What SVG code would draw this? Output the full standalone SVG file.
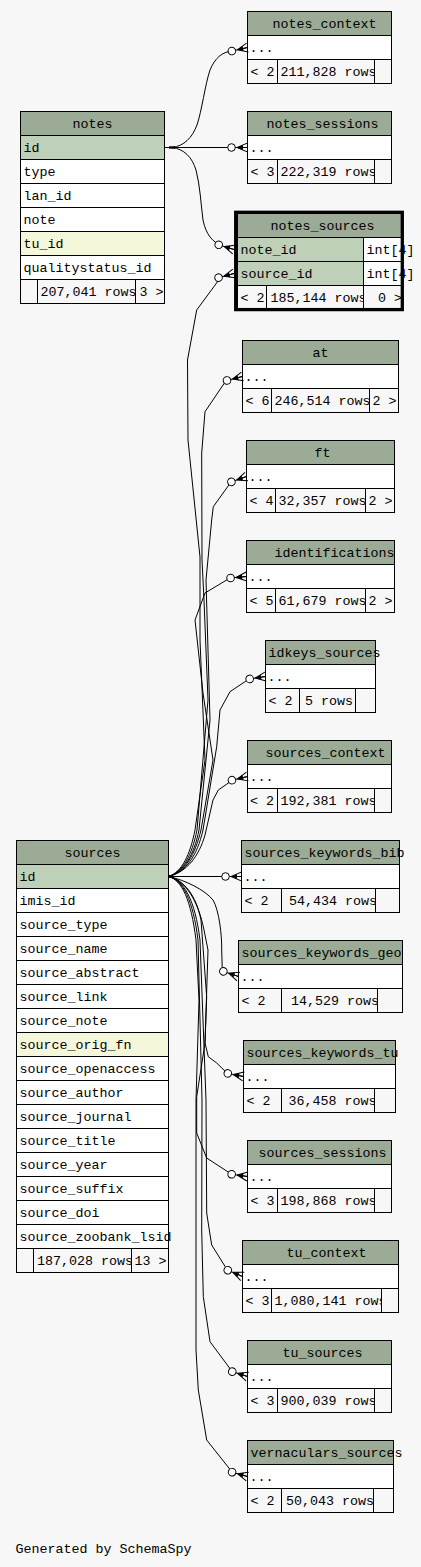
<svg xmlns="http://www.w3.org/2000/svg" width="421" height="1567" viewBox="0 0 421 1567">
<style>
.h{fill:#9bab96;stroke:#000;stroke-width:1}
.k{fill:#bed1b8;stroke:#000;stroke-width:1}
.i{fill:#f4f7da;stroke:#000;stroke-width:1}
.w{fill:#ffffff;stroke:#000;stroke-width:1}
.f{fill:#f7f7f7;stroke:#000;stroke-width:1}
text{font-family:"Liberation Mono","DejaVu Sans Mono",monospace;font-size:13.33px;fill:#000}
.e{fill:none;stroke:#000;stroke-width:1;marker-end:url(#co)}
</style>
<defs>
<marker id="co" markerUnits="userSpaceOnUse" orient="auto" markerWidth="24" markerHeight="14" viewBox="-21 -7 24 14" refX="0" refY="0" overflow="visible">
<path d="M-10.5,0 L0,-4.5 M-10.5,0 L0,0 M-10.5,0 L0,4.5" stroke="#000" stroke-width="1" fill="none"/>
<path d="M-10.5,0 L-4.5,-2.6 L-4.5,2.6 Z" fill="#000"/>
<circle cx="-16" cy="0" r="3.8" fill="#fff" stroke="#000" stroke-width="1"/>
</marker>
</defs>
<rect x="0" y="0" width="421" height="1567" fill="#f7f7f7"/>

<g id="notes">
<rect class="h" x="20.5" y="111.5" width="144" height="24"/>
<rect class="k" x="20.5" y="135.5" width="144" height="24"/>
<rect class="w" x="20.5" y="159.5" width="144" height="24"/>
<rect class="w" x="20.5" y="183.5" width="144" height="24"/>
<rect class="w" x="20.5" y="207.5" width="144" height="24"/>
<rect class="i" x="20.5" y="231.5" width="144" height="24"/>
<rect class="w" x="20.5" y="255.5" width="144" height="24"/>
<rect class="f" x="20.5" y="279.5" width="17" height="24"/>
<rect class="f" x="37.5" y="279.5" width="98" height="24"/>
<text x="72.5" y="127.5">notes</text>
<text x="23.5" y="151.5">id</text>
<text x="23.5" y="175.5">type</text>
<text x="23.5" y="199.5">lan_id</text>
<text x="23.5" y="223.5">note</text>
<text x="23.5" y="247.5">tu_id</text>
<text x="23.5" y="271.5">qualitystatus_id</text>
<text x="40.5" y="295.5">207,041 rows</text>
<rect class="f" x="135.5" y="279.5" width="29" height="24"/>
<text x="139.5" y="295.5">3 &gt;</text>
</g>

<g id="notes_context">
<rect class="h" x="247.5" y="11.5" width="144" height="24"/>
<rect class="w" x="247.5" y="35.5" width="144" height="24"/>
<rect class="f" x="247.5" y="59.5" width="30" height="24"/>
<rect class="f" x="277.5" y="59.5" width="97" height="24"/>
<text x="272.5" y="27.5">notes_context</text>
<text x="249.5" y="51.5">...</text>
<text x="250.5" y="75.5">&lt; 2</text>
<text x="280.5" y="75.5">211,828 rows</text>
<rect class="f" x="374.5" y="59.5" width="17" height="24"/>
</g>

<g id="notes_sessions">
<rect class="h" x="247.5" y="111.5" width="144" height="24"/>
<rect class="w" x="247.5" y="135.5" width="144" height="24"/>
<rect class="f" x="247.5" y="159.5" width="30" height="24"/>
<rect class="f" x="277.5" y="159.5" width="97" height="24"/>
<text x="266.5" y="127.5">notes_sessions</text>
<text x="249.5" y="151.5">...</text>
<text x="250.5" y="175.5">&lt; 3</text>
<text x="280.5" y="175.5">222,319 rows</text>
<rect class="f" x="374.5" y="159.5" width="17" height="24"/>
</g>

<g id="notes_sources">
<rect class="h" x="237.5" y="213.5" width="164" height="24"/>
<rect class="k" x="237.5" y="237.5" width="126" height="24"/>
<rect class="w" x="363.5" y="237.5" width="38" height="24"/>
<rect class="k" x="237.5" y="261.5" width="126" height="24"/>
<rect class="w" x="363.5" y="261.5" width="38" height="24"/>
<rect class="f" x="237.5" y="285.5" width="29" height="24"/>
<rect class="f" x="266.5" y="285.5" width="97" height="24"/>
<text x="270.5" y="230">notes_sources</text>
<text x="240.5" y="253.5">note_id</text>
<text x="366.5" y="253.5">int[4]</text>
<text x="240.5" y="277.5">source_id</text>
<text x="366.5" y="277.5">int[4]</text>
<text x="240.5" y="301.5">&lt; 2</text>
<text x="270.5" y="301.5">185,144 rows</text>
<rect class="f" x="363.5" y="285.5" width="38" height="24"/>
<text x="378" y="301.5">0 &gt;</text>
<rect x="235.7" y="212.3" width="166.6" height="97.3" fill="none" stroke="#000" stroke-width="3.3"/>
</g>

<g id="at">
<rect class="h" x="242.5" y="340.5" width="156" height="24"/>
<rect class="w" x="242.5" y="364.5" width="156" height="24"/>
<rect class="f" x="242.5" y="388.5" width="29" height="24"/>
<rect class="f" x="271.5" y="388.5" width="98" height="24"/>
<text x="312.5" y="356.5">at</text>
<text x="244.5" y="380.5">...</text>
<text x="245.5" y="404.5">&lt; 6</text>
<text x="274.5" y="404.5">246,514 rows</text>
<rect class="f" x="369.5" y="388.5" width="29" height="24"/>
<text x="372.5" y="404.5">2 &gt;</text>
</g>

<g id="ft">
<rect class="h" x="246.5" y="440.5" width="148" height="24"/>
<rect class="w" x="246.5" y="464.5" width="148" height="24"/>
<rect class="f" x="246.5" y="488.5" width="29" height="24"/>
<rect class="f" x="275.5" y="488.5" width="90" height="24"/>
<text x="314.5" y="456.5">ft</text>
<text x="248.5" y="480.5">...</text>
<text x="249.5" y="504.5">&lt; 4</text>
<text x="278.5" y="504.5">32,357 rows</text>
<rect class="f" x="365.5" y="488.5" width="29" height="24"/>
<text x="368.5" y="504.5">2 &gt;</text>
</g>

<g id="identifications">
<rect class="h" x="246.5" y="540.5" width="148" height="24"/>
<rect class="w" x="246.5" y="564.5" width="148" height="24"/>
<rect class="f" x="246.5" y="588.5" width="29" height="24"/>
<rect class="f" x="275.5" y="588.5" width="90" height="24"/>
<text x="274.5" y="556.5">identifications</text>
<text x="248.5" y="580.5">...</text>
<text x="249.5" y="604.5">&lt; 5</text>
<text x="278.5" y="604.5">61,679 rows</text>
<rect class="f" x="365.5" y="588.5" width="29" height="24"/>
<text x="368.5" y="604.5">2 &gt;</text>
</g>

<g id="idkeys_sources">
<rect class="h" x="265.5" y="640.5" width="110" height="24"/>
<rect class="w" x="265.5" y="664.5" width="110" height="24"/>
<rect class="f" x="265.5" y="688.5" width="34" height="24"/>
<rect class="f" x="299.5" y="688.5" width="56" height="24"/>
<text x="268.5" y="656.5">idkeys_sources</text>
<text x="267.5" y="680.5">...</text>
<text x="268.5" y="704.5">&lt; 2</text>
<text x="305" y="704.5">5 rows</text>
<rect class="f" x="355.5" y="688.5" width="20" height="24"/>
</g>

<g id="sources_context">
<rect class="h" x="247.5" y="740.5" width="144" height="24"/>
<rect class="w" x="247.5" y="764.5" width="144" height="24"/>
<rect class="f" x="247.5" y="788.5" width="30" height="24"/>
<rect class="f" x="277.5" y="788.5" width="97" height="24"/>
<text x="265.5" y="756.5">sources_context</text>
<text x="249.5" y="780.5">...</text>
<text x="250" y="804.5">&lt; 2</text>
<text x="280.5" y="804.5">192,381 rows</text>
<rect class="f" x="374.5" y="788.5" width="17" height="24"/>
</g>

<g id="sources_keywords_bib">
<rect class="h" x="241.5" y="840.5" width="158" height="24"/>
<rect class="w" x="241.5" y="864.5" width="158" height="24"/>
<rect class="f" x="241.5" y="888.5" width="40" height="24"/>
<rect class="f" x="281.5" y="888.5" width="94" height="24"/>
<text x="244.5" y="856.5">sources_keywords_bib</text>
<text x="243.5" y="880.5">...</text>
<text x="244.5" y="904.5">&lt; 2</text>
<text x="289" y="904.5">54,434 rows</text>
<rect class="f" x="375.5" y="888.5" width="24" height="24"/>
</g>

<g id="sources_keywords_geo">
<rect class="h" x="238.5" y="940.5" width="164" height="24"/>
<rect class="w" x="238.5" y="964.5" width="164" height="24"/>
<rect class="f" x="238.5" y="988.5" width="43" height="24"/>
<rect class="f" x="281.5" y="988.5" width="96" height="24"/>
<text x="241.5" y="956.5">sources_keywords_geo</text>
<text x="240.5" y="980.5">...</text>
<text x="241.5" y="1004.5">&lt; 2</text>
<text x="291" y="1004.5">14,529 rows</text>
<rect class="f" x="377.5" y="988.5" width="25" height="24"/>
</g>

<g id="sources_keywords_tu">
<rect class="h" x="243.5" y="1040.5" width="152" height="24"/>
<rect class="w" x="243.5" y="1064.5" width="152" height="24"/>
<rect class="f" x="243.5" y="1088.5" width="38" height="24"/>
<rect class="f" x="281.5" y="1088.5" width="93" height="24"/>
<text x="246.5" y="1056.5">sources_keywords_tu</text>
<text x="245.5" y="1080.5">...</text>
<text x="246.5" y="1104.5">&lt; 2</text>
<text x="288.5" y="1104.5">36,458 rows</text>
<rect class="f" x="374.5" y="1088.5" width="21" height="24"/>
</g>

<g id="sources_sessions">
<rect class="h" x="247.5" y="1140.5" width="144" height="24"/>
<rect class="w" x="247.5" y="1164.5" width="144" height="24"/>
<rect class="f" x="247.5" y="1188.5" width="30" height="24"/>
<rect class="f" x="277.5" y="1188.5" width="97" height="24"/>
<text x="258.5" y="1156.5">sources_sessions</text>
<text x="249.5" y="1180.5">...</text>
<text x="250.5" y="1204.5">&lt; 3</text>
<text x="280.5" y="1204.5">198,868 rows</text>
<rect class="f" x="374.5" y="1188.5" width="17" height="24"/>
</g>

<g id="tu_context">
<rect class="h" x="242.5" y="1240.5" width="156" height="24"/>
<rect class="w" x="242.5" y="1264.5" width="156" height="24"/>
<rect class="f" x="242.5" y="1288.5" width="29" height="24"/>
<rect class="f" x="271.5" y="1288.5" width="110" height="24"/>
<text x="286.5" y="1256.5">tu_context</text>
<text x="244.5" y="1280.5">...</text>
<text x="245.5" y="1304.5">&lt; 3</text>
<text x="274.5" y="1304.5">1,080,141 rows</text>
<rect class="f" x="381.5" y="1288.5" width="17" height="24"/>
</g>

<g id="tu_sources">
<rect class="h" x="247.5" y="1340.5" width="144" height="24"/>
<rect class="w" x="247.5" y="1364.5" width="144" height="24"/>
<rect class="f" x="247.5" y="1388.5" width="30" height="24"/>
<rect class="f" x="277.5" y="1388.5" width="97" height="24"/>
<text x="282.5" y="1356.5">tu_sources</text>
<text x="249.5" y="1380.5">...</text>
<text x="250.5" y="1404.5">&lt; 3</text>
<text x="280.5" y="1404.5">900,039 rows</text>
<rect class="f" x="374.5" y="1388.5" width="17" height="24"/>
</g>

<g id="vernaculars_sources">
<rect class="h" x="247.5" y="1440.5" width="146" height="24"/>
<rect class="w" x="247.5" y="1464.5" width="146" height="24"/>
<rect class="f" x="247.5" y="1488.5" width="34" height="24"/>
<rect class="f" x="281.5" y="1488.5" width="92" height="24"/>
<text x="250.5" y="1456.5">vernaculars_sources</text>
<text x="249.5" y="1480.5">...</text>
<text x="250.5" y="1504.5">&lt; 2</text>
<text x="286" y="1504.5">50,043 rows</text>
<rect class="f" x="373.5" y="1488.5" width="20" height="24"/>
</g>

<g id="sources">
<rect class="h" x="16.5" y="840.5" width="152" height="24"/>
<rect class="k" x="16.5" y="864.5" width="152" height="24"/>
<rect class="w" x="16.5" y="888.5" width="152" height="24"/>
<rect class="w" x="16.5" y="912.5" width="152" height="24"/>
<rect class="w" x="16.5" y="936.5" width="152" height="24"/>
<rect class="w" x="16.5" y="960.5" width="152" height="24"/>
<rect class="w" x="16.5" y="984.5" width="152" height="24"/>
<rect class="w" x="16.5" y="1008.5" width="152" height="24"/>
<rect class="i" x="16.5" y="1032.5" width="152" height="24"/>
<rect class="w" x="16.5" y="1056.5" width="152" height="24"/>
<rect class="w" x="16.5" y="1080.5" width="152" height="24"/>
<rect class="w" x="16.5" y="1104.5" width="152" height="24"/>
<rect class="w" x="16.5" y="1128.5" width="152" height="24"/>
<rect class="w" x="16.5" y="1152.5" width="152" height="24"/>
<rect class="w" x="16.5" y="1176.5" width="152" height="24"/>
<rect class="w" x="16.5" y="1200.5" width="152" height="24"/>
<rect class="w" x="16.5" y="1224.5" width="152" height="24"/>
<rect class="f" x="16.5" y="1248.5" width="17" height="24"/>
<rect class="f" x="33.5" y="1248.5" width="98" height="24"/>
<text x="64.5" y="856.5">sources</text>
<text x="19.5" y="880.5">id</text>
<text x="19.5" y="904.5">imis_id</text>
<text x="19.5" y="928.5">source_type</text>
<text x="19.5" y="952.5">source_name</text>
<text x="19.5" y="976.5">source_abstract</text>
<text x="19.5" y="1000.5">source_link</text>
<text x="19.5" y="1024.5">source_note</text>
<text x="19.5" y="1048.5">source_orig_fn</text>
<text x="19.5" y="1072.5">source_openaccess</text>
<text x="19.5" y="1096.5">source_author</text>
<text x="19.5" y="1120.5">source_journal</text>
<text x="19.5" y="1144.5">source_title</text>
<text x="19.5" y="1168.5">source_year</text>
<text x="19.5" y="1192.5">source_suffix</text>
<text x="19.5" y="1216.5">source_doi</text>
<text x="19.5" y="1240.5">source_zoobank_lsid</text>
<text x="37" y="1264.5">187,028 rows</text>
<rect class="f" x="131.5" y="1248.5" width="37" height="24"/>
<text x="134.5" y="1264.5">13 &gt;</text>
</g>

<g id="connectors">
<rect x="169" y="146.3" width="6" height="2.4" fill="#000"/>
<path class="e" d="M164.5,147.5 L172,147.5 C184,146 192,138 197,125 C202,110 205,85 210,70 C215,58 222,52 232,51 L247.5,47.5"/>
<path class="e" d="M164.5,147.5 L247.5,147.5"/>
<path class="e" d="M164.5,147.5 L172,147.5 C184,149 192,157 196,170 C200,185 201,205 203,220 C206,235 213,242 221,245.5 L234,249.5"/>
<path class="e" d="M168.5,876.5 C182,872 190,855 195,830 L205,760 L200,640 L200,557 L188,440 L187.5,360 L196.7,310 L221,277 L234,273.5"/>
<path class="e" d="M168.5,876.5 C183,872 192,855 197,830 L208,700 L204,600 L202,560 L201.7,453 L205,411.7 L226,380.7 L242.5,376.5"/>
<path class="e" d="M168.5,876.5 C184,872 194,855 199,830 L210,720 L206,580 L211.7,520 L213.3,506.7 L231,482 L246.5,476.5"/>
<path class="e" d="M168.5,876.5 C185,872 195,855 201,830 L213,760 L203,693 L195,620 L205,593 L230,578 L246.5,576.5"/>
<path class="e" d="M168.5,876.5 C186,872 197,856 203,830 L216.7,746.7 L220,710 L230,691.7 L249,679 L265.5,676.5"/>
<path class="e" d="M168.5,876.5 C187,872 199,856 205,835 L213,800 L218.3,790 L232.7,780 L247.5,776.5"/>
<path class="e" d="M168.5,876.5 L241.5,876.5"/>
<path class="e" d="M168.5,876.5 C185,880 205,890 213,900 C219,910 222,935 221.7,950 L222.3,971 L238.5,976.5"/>
<path class="e" d="M168.5,876.5 C184,880 196,895 201,920 L206.7,997 L205,1043 L208.3,1056.7 L216.7,1063 L227.3,1073.3 L243.5,1076.5"/>
<path class="e" d="M168.5,876.5 C185,880 198,900 204,930 L208,950 L205,1043 L196.7,1096.7 L196.7,1133 L206.7,1158 L231.7,1174.3 L247.5,1176.5"/>
<path class="e" d="M168.5,876.5 C184,880 195,900 200,940 L206,1100 L206.7,1213 L209.3,1230 L211.7,1245 L227.3,1270 L242.5,1276.5"/>
<path class="e" d="M168.5,876.5 C183,880 193,900 198,940 L202,1100 L201.7,1230 L203.3,1296.7 L210,1341.7 L232.3,1371.7 L247.5,1376.5"/>
<path class="e" d="M168.5,876.5 C182,880 191,900 196,940 L199,1000 L196,1100 L196,1350 L198.3,1390 L206.7,1440 L232.3,1472.3 L247.5,1476.5"/>
</g>

<text x="15.5" y="1553">Generated by SchemaSpy</text>
</svg>
